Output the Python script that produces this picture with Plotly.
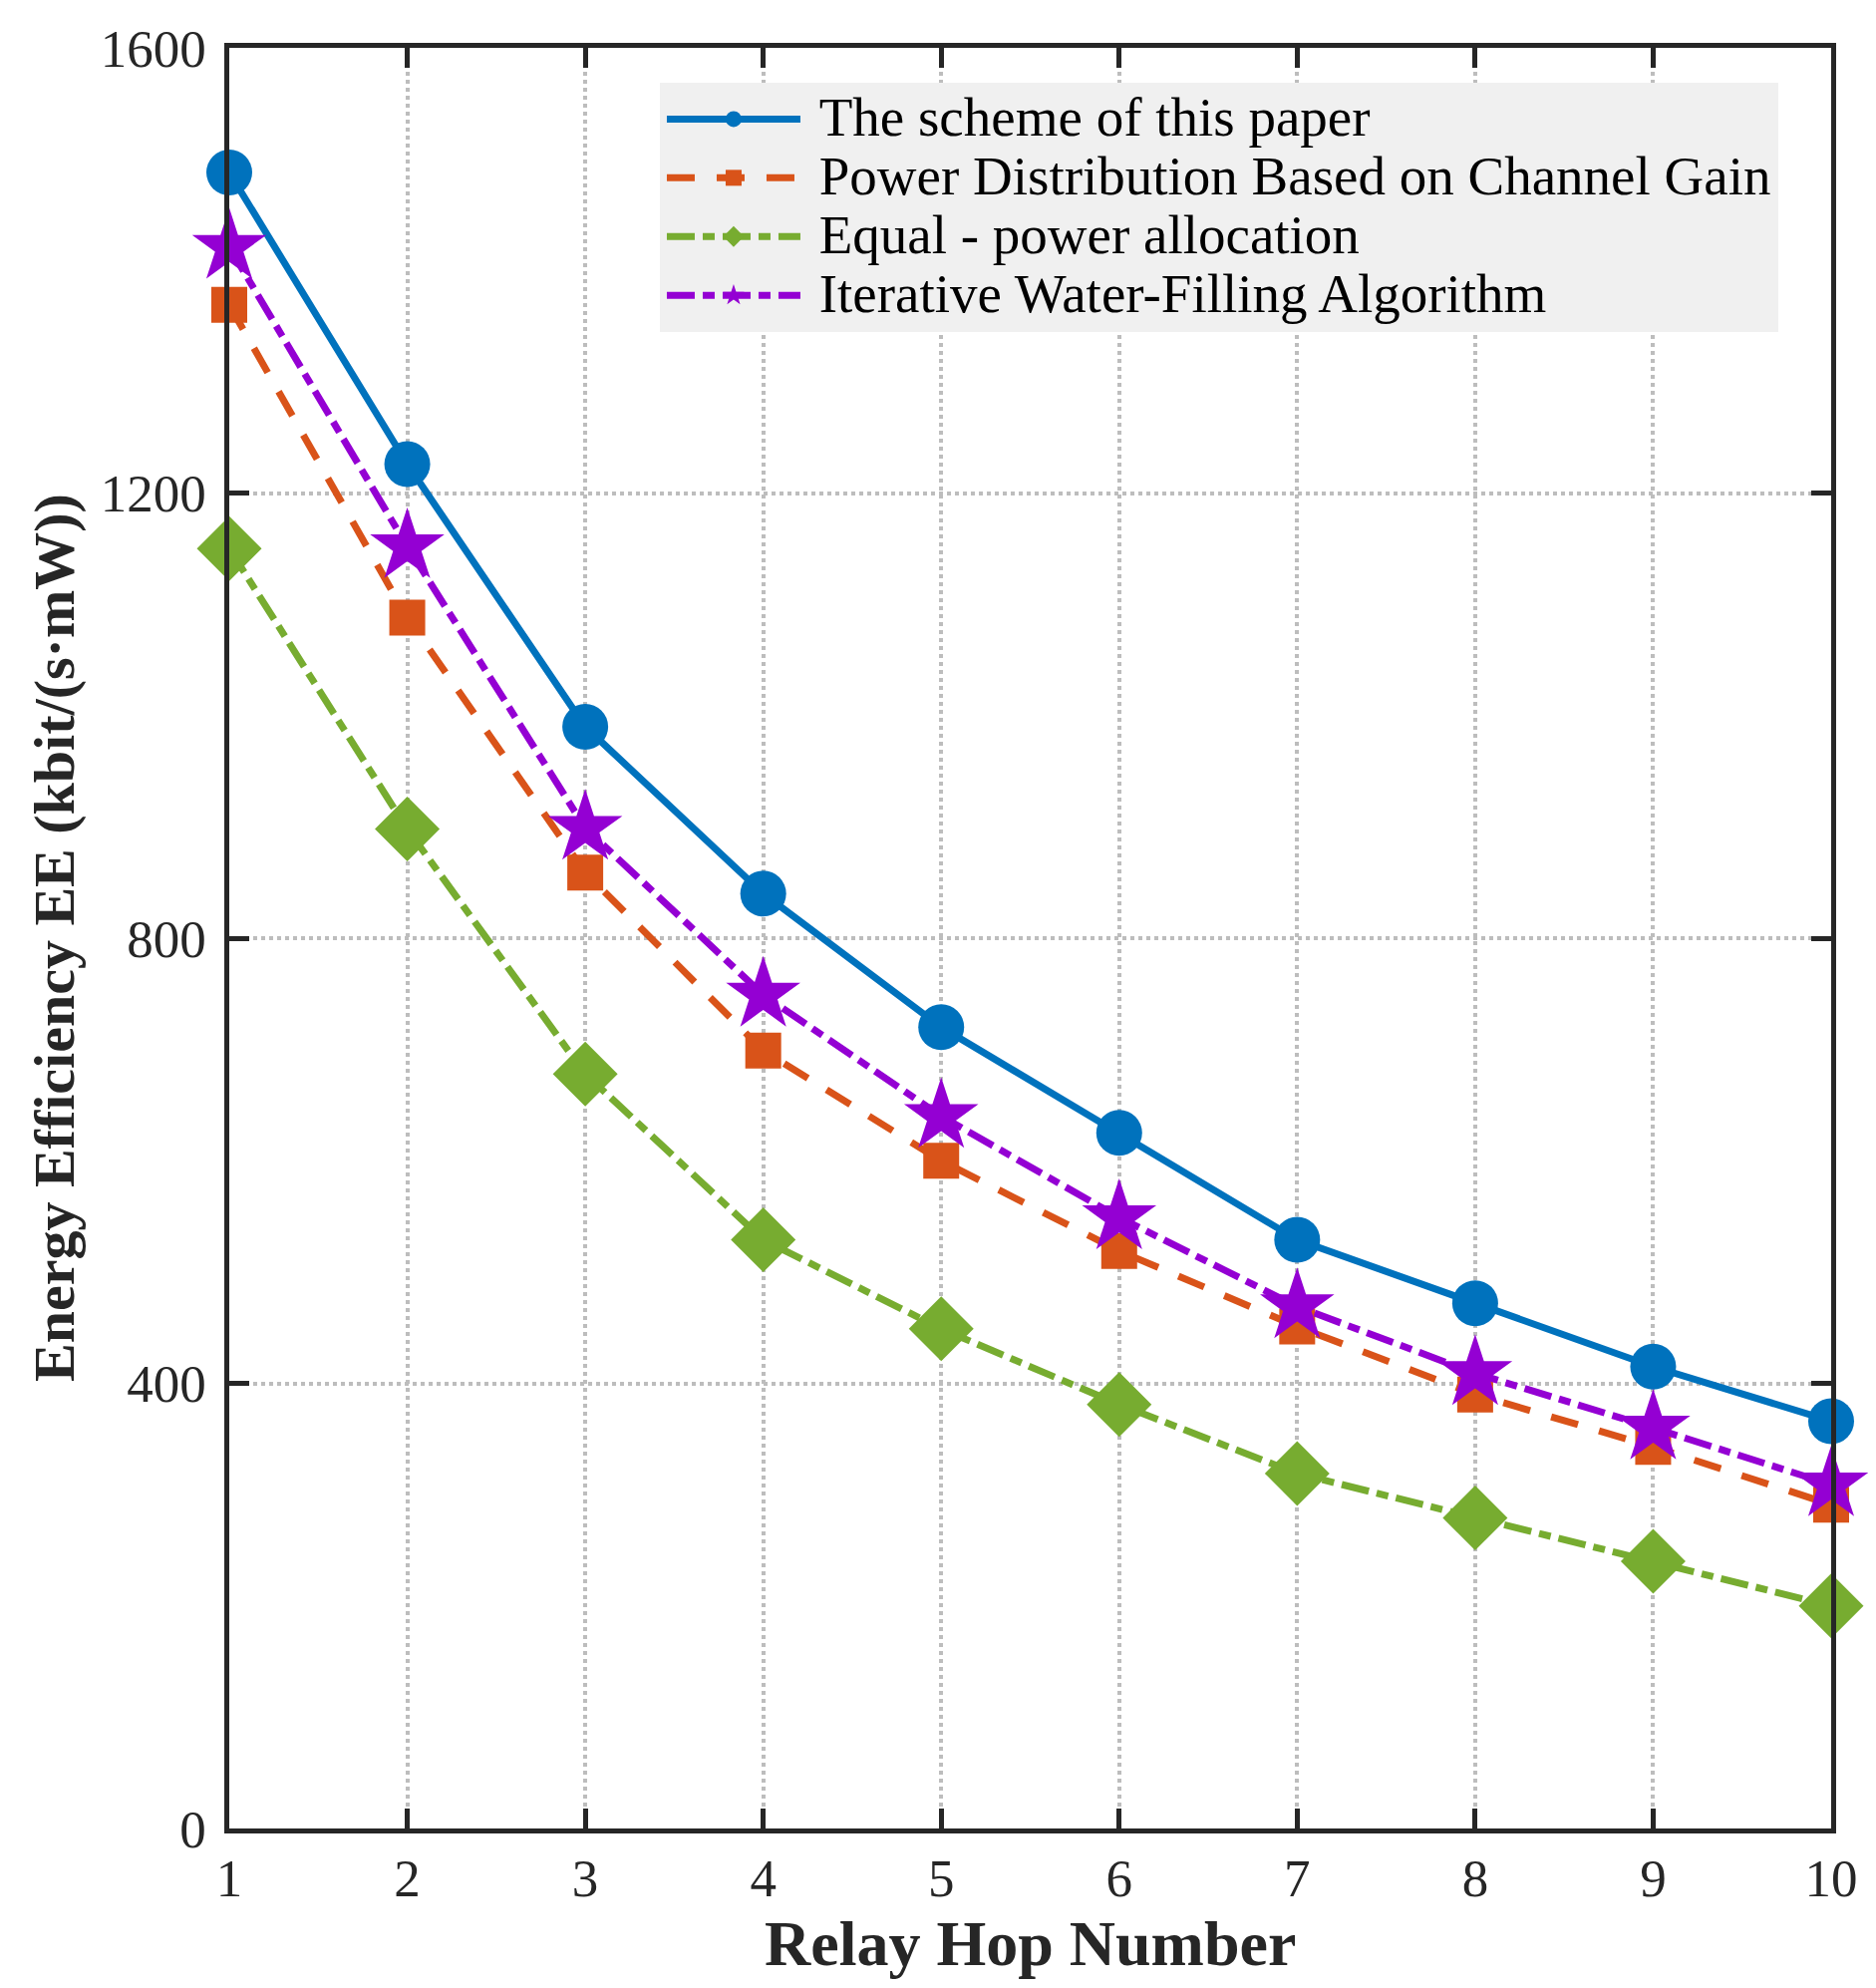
import plotly.graph_objects as go

# relay hops 1..10
hops = [1, 2, 3, 4, 5, 6, 7, 8, 9, 10]

# energy efficiency values, kbit/(s*mW)
ee_proposed = [1488, 1226, 990, 840, 720, 625, 529, 472, 415, 366]
ee_channel_gain = [1369, 1088, 859, 699, 600, 519, 451, 390, 343, 291]
ee_equal_power = [1150, 898, 678, 529, 449, 381, 319, 279, 240, 200]
ee_water_filling = [1421, 1152, 899, 749, 640, 549, 469, 409, 360, 309]

names = ["The scheme of this paper",
         "Power Distribution Based on Channel Gain",
         "Equal - power allocation",
         "Iterative Water-Filling Algorithm"]
y_ticks = [0, 400, 800, 1200, 1600]

FONT = "Liberation Serif, Times New Roman, serif"
AXIS_COLOR = "#262626"


def legend_name(s):
    # bigger glyphs than the legend font, so rows stay tight like matlab's legend
    return '<span style="font-size:55px">\u00a0' + s + '</span>'


fig = go.Figure()

fig.add_trace(go.Scatter(x=hops, y=ee_proposed, name=legend_name(names[0]), mode="lines+markers",
                         line=dict(color="#0072BD", width=7),
                         marker=dict(symbol="circle", size=46, color="#0072BD"),
                         cliponaxis=False))
fig.add_trace(go.Scatter(x=hops, y=ee_channel_gain, name=legend_name(names[1]), mode="lines+markers",
                         line=dict(color="#D95319", width=7, dash="28px,22px"),
                         marker=dict(symbol="square", size=36, color="#D95319"),
                         cliponaxis=False))
fig.add_trace(go.Scatter(x=hops, y=ee_equal_power, name=legend_name(names[2]), mode="lines+markers",
                         line=dict(color="#77AC30", width=7, dash="28px,8px,12px,8px"),
                         marker=dict(symbol="diamond", size=50, color="#77AC30"),
                         cliponaxis=False))
fig.add_trace(go.Scatter(x=hops, y=ee_water_filling, name=legend_name(names[3]), mode="lines+markers",
                         line=dict(color="#9400D3", width=7, dash="28px,8px,12px,8px"),
                         marker=dict(symbol="star", size=56, color="#9400D3"),
                         cliponaxis=False))

axis_common = dict(showline=True, linecolor=AXIS_COLOR, linewidth=4.5, mirror="ticks",
                   ticks="inside", ticklen=20, tickwidth=4.5, tickcolor=AXIS_COLOR,
                   showgrid=True, gridcolor="#bdbdbd", gridwidth=4, griddash="dot",
                   zeroline=False, tickfont=dict(family=FONT, size=53, color=AXIS_COLOR))

fig.update_xaxes(range=[1, 10], tickvals=hops, ticklabelstandoff=0, **axis_common)
fig.update_yaxes(range=[0, 1600], tickvals=y_ticks, ticklabelstandoff=8, **axis_common)

# axis titles as annotations so they sit where the matlab figure puts them
fig.add_annotation(text="<b>Relay Hop Number</b>", xref="paper", yref="paper",
                   x=0.5, y=-0.0644, xanchor="center", yanchor="middle", showarrow=False,
                   font=dict(family=FONT, size=64, color=AXIS_COLOR))
fig.add_annotation(text="<b>Energy Efficiency EE (kbit/(s·mW))</b>", xref="paper", yref="paper",
                   x=-0.1095, y=0.5, xanchor="center", yanchor="middle", textangle=-90,
                   showarrow=False, font=dict(family=FONT, size=58, color=AXIS_COLOR))

# page body has an 8px margin, so the figure is shrunk by that much
fig.update_layout(
    width=1874, height=1986,
    margin=dict(l=222, r=45, t=40, b=160, autoexpand=False),
    paper_bgcolor="white", plot_bgcolor="white",
    font=dict(family=FONT, color="black"),
    legend=dict(x=0.2688, y=0.9804, xanchor="left", yanchor="top",
                bgcolor="#f0f0f0", bordercolor="#f0f0f0", borderwidth=2,
                font=dict(family=FONT, size=43, color="black"),
                itemwidth=134, tracegroupgap=0),
    showlegend=True,
)

fig.write_html("out.html")
